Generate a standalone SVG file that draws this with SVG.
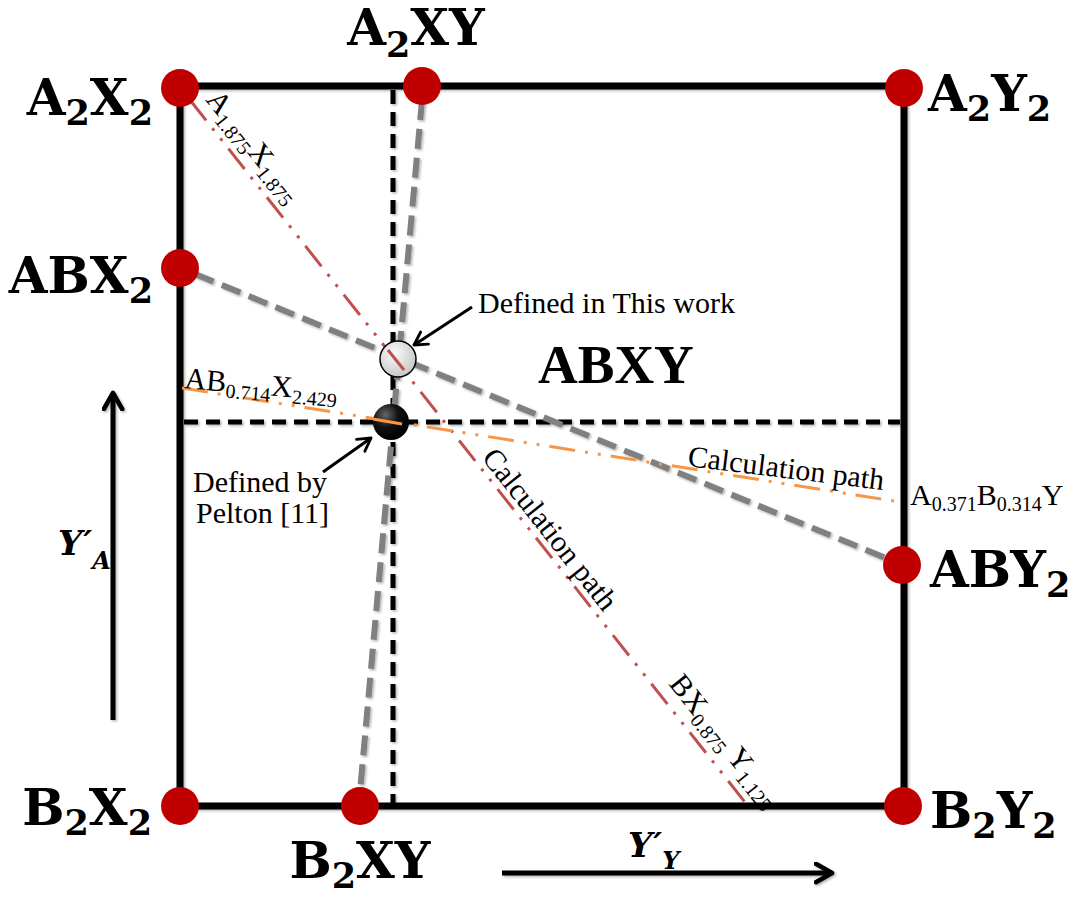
<svg xmlns="http://www.w3.org/2000/svg" width="1073" height="897" viewBox="0 0 1073 897">
<defs>
<style>
.lbl{font-family:"DejaVu Serif","Liberation Serif",serif;font-weight:bold;font-size:50px;fill:#000}
.sb{font-size:35px}
.tnr{font-family:"Liberation Serif","Times New Roman",serif;font-size:30px;fill:#000}
.ts{font-size:20px}
.big{font-family:"Liberation Serif","Times New Roman",serif;font-size:55px;font-weight:bold;fill:#000}
.math{font-family:"DejaVu Serif","Liberation Serif",serif;font-weight:bold;font-style:italic;font-size:34px;fill:#000}
.msub{font-size:24px}
.dot{fill:#c00000}
.frame{stroke:#000;stroke-width:7;fill:none;stroke-linecap:square}
.bd{stroke:#000;stroke-width:5;stroke-dasharray:14 8;fill:none}
.gd{stroke:#808080;stroke-width:6;stroke-dasharray:20 9;fill:none}
.rd{stroke:#c0504d;stroke-width:3;stroke-dasharray:26 10 3 10 3 10;fill:none}
.od{stroke:#f79646;stroke-width:3;stroke-dasharray:26 10 3 10 3 10;fill:none}
.arr{stroke:#000;stroke-width:5;fill:none}
.arrs{stroke:#000;stroke-width:3;fill:none}
</style>
<filter id="sh" filterUnits="userSpaceOnUse" x="0" y="0" width="1073" height="897">
<feDropShadow dx="1.5" dy="1.5" stdDeviation="1.2" flood-color="#000" flood-opacity="0.3"/>
</filter>
<marker id="chev" viewBox="0 0 10 10" refX="8" refY="5" markerWidth="4.6" markerHeight="4.6" orient="auto" markerUnits="strokeWidth">
<path d="M1,1 L8,5 L1,9" fill="none" stroke="#000" stroke-width="2" stroke-linecap="round" stroke-linejoin="round"/>
</marker>
<marker id="chev2" viewBox="0 0 10 10" refX="8" refY="5" markerWidth="6" markerHeight="6" orient="auto" markerUnits="strokeWidth">
<path d="M1,1 L8,5 L1,9" fill="none" stroke="#000" stroke-width="1.6" stroke-linecap="round" stroke-linejoin="round"/>
</marker>
<radialGradient id="gLight" cx="40%" cy="35%" r="70%">
<stop offset="0" stop-color="#fafafa"/>
<stop offset="1" stop-color="#c4c4c4"/>
</radialGradient>
<radialGradient id="gDark" cx="35%" cy="30%" r="70%">
<stop offset="0" stop-color="#666"/>
<stop offset="0.5" stop-color="#111"/>
<stop offset="1" stop-color="#000"/>
</radialGradient>
</defs>
<rect width="1073" height="897" fill="#fff"/>

<g id="frame" filter="url(#sh)">
<rect class="frame" x="180" y="86" width="724" height="720"/>
</g>

<g id="connectors">
<line class="bd" x1="393" y1="90" x2="393" y2="803" filter="url(#sh)"/>
<line class="bd" x1="184" y1="422" x2="900" y2="422" filter="url(#sh)"/>
<line class="gd" x1="422" y1="100" x2="360" y2="792" filter="url(#sh)"/>
<line class="gd" x1="195" y1="274" x2="888" y2="559" filter="url(#sh)"/>
<line class="rd" x1="190" y1="100" x2="748" y2="806"/>
<line class="od" x1="182" y1="388" x2="900" y2="502"/>
<line class="arr" x1="113" y1="720" x2="113" y2="393" marker-end="url(#chev)" filter="url(#sh)"/>
<line class="arr" x1="502" y1="873" x2="832" y2="873" marker-end="url(#chev)" filter="url(#sh)"/>
<line class="arrs" x1="472" y1="307" x2="414" y2="345" marker-end="url(#chev2)"/>
<line class="arrs" x1="323" y1="472" x2="371" y2="438" marker-end="url(#chev2)"/>
</g>

<g id="points">
<circle id="p-this" cx="398" cy="359" r="18" fill="url(#gLight)" stroke="#000" stroke-width="1.5"/>
<circle id="p-pelton" cx="391" cy="422" r="18" fill="url(#gDark)"/>
<line x1="388" y1="350" x2="404" y2="370" stroke="#c0504d" stroke-width="3"/>
<line x1="373" y1="419" x2="402" y2="424" stroke="#f79646" stroke-width="3"/>
</g>

<g id="n-A2X2"><circle class="dot" cx="180" cy="88" r="19"/>
<text class="lbl" x="153" y="115" text-anchor="end">A<tspan class="sb" dy="10">2</tspan><tspan dy="-10">X</tspan><tspan class="sb" dy="10">2</tspan></text></g>
<g id="n-A2XY"><circle class="dot" cx="422" cy="86" r="19"/>
<text class="lbl" x="416" y="45" text-anchor="middle">A<tspan class="sb" dy="12">2</tspan><tspan dy="-12">XY</tspan></text></g>
<g id="n-A2Y2"><circle class="dot" cx="904" cy="88" r="19"/>
<text class="lbl" x="928" y="111">A<tspan class="sb" dy="10">2</tspan><tspan dy="-10">Y</tspan><tspan class="sb" dy="10">2</tspan></text></g>
<g id="n-ABX2"><circle class="dot" cx="180" cy="268" r="19"/>
<text class="lbl" x="153" y="293" text-anchor="end">ABX<tspan class="sb" dy="10">2</tspan></text></g>
<g id="n-ABY2"><circle class="dot" cx="902" cy="565" r="19"/>
<text class="lbl" x="930" y="587">ABY<tspan class="sb" dy="10">2</tspan></text></g>
<g id="n-B2X2"><circle class="dot" cx="180" cy="806" r="19"/>
<text class="lbl" x="152" y="825" text-anchor="end">B<tspan class="sb" dy="10">2</tspan><tspan dy="-10">X</tspan><tspan class="sb" dy="10">2</tspan></text></g>
<g id="n-B2XY"><circle class="dot" cx="360" cy="806" r="19"/>
<text class="lbl" x="360" y="878" text-anchor="middle">B<tspan class="sb" dy="10">2</tspan><tspan dy="-10">XY</tspan></text></g>
<g id="n-B2Y2"><circle class="dot" cx="903" cy="806" r="19"/>
<text class="lbl" x="930" y="828">B<tspan class="sb" dy="10">2</tspan><tspan dy="-10">Y</tspan><tspan class="sb" dy="10">2</tspan></text></g>

<g id="labels">
<text class="big" x="538" y="383">ABXY</text>
<text class="tnr" x="478" y="313">Defined in This work</text>
<text class="tnr" x="193" y="492">Defined by</text>
<text class="tnr" x="196" y="523">Pelton [11]</text>
<text class="tnr" transform="translate(205,100) rotate(51.6)">A<tspan class="ts" dy="6">1.875</tspan><tspan dy="-6">X</tspan><tspan class="ts" dy="6">1.875</tspan></text>
<text class="tnr" transform="translate(668,684) rotate(51.6)">BX<tspan class="ts" dy="6">0.875</tspan><tspan dy="-6"> Y</tspan><tspan class="ts" dy="6">1.125</tspan></text>
<text class="tnr" transform="translate(481,458) rotate(51.6)">Calculation path</text>
<text class="tnr" transform="translate(687,466) rotate(7)">Calculation path</text>
<text class="tnr" transform="translate(184,388) rotate(5)">AB<tspan class="ts" dy="6">0.714</tspan><tspan dy="-6">X</tspan><tspan class="ts" dy="6">2.429</tspan></text>
<text class="tnr" x="910" y="505">A<tspan class="ts" dy="6">0.371</tspan><tspan dy="-6">B</tspan><tspan class="ts" dy="6">0.314</tspan><tspan dy="-6">Y</tspan></text>
<text class="math" x="58" y="555">Y<tspan dx="1">′</tspan><tspan class="msub" dy="14">A</tspan></text>
<text class="math" x="628" y="857">Y<tspan dx="1">′</tspan><tspan class="msub" dy="12">Y</tspan></text>
</g>
</svg>
